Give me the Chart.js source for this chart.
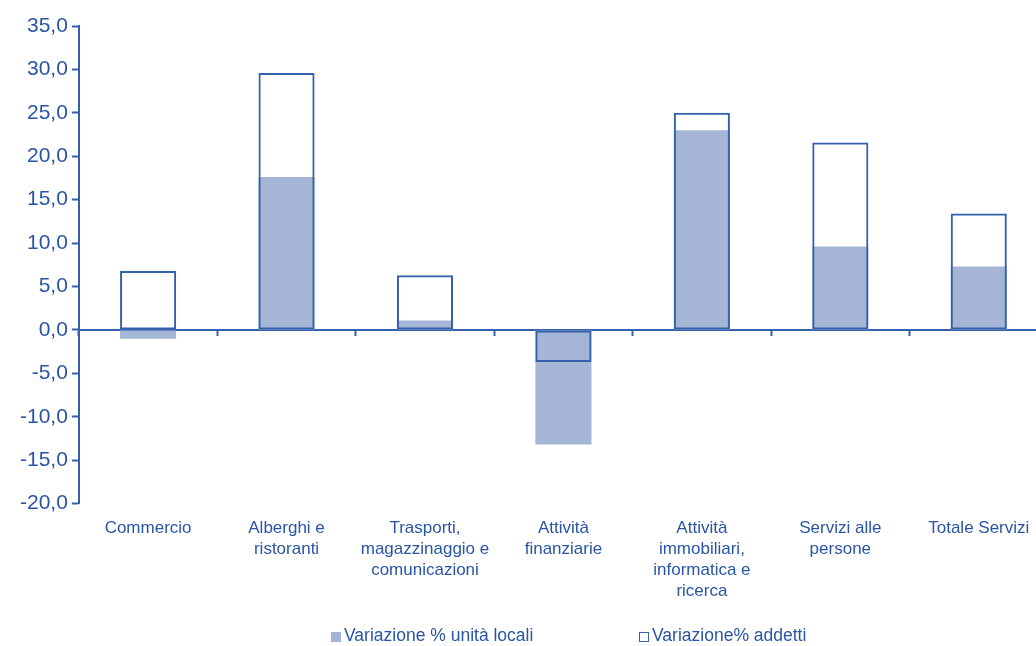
<!DOCTYPE html>
<html>
<head>
<meta charset="utf-8">
<script src="https://cdn.jsdelivr.net/npm/chart.js@4/dist/chart.umd.min.js"></script>
<style>
  html, body { margin: 0; padding: 0; background: #fff; overflow: hidden; }
  #wrap { position: relative; width: 1036px; height: 646px; overflow: hidden; }
  #chart { position: absolute; left: 0; top: 0; }
  .leg { position: absolute; top: 625px; font: 17.5px "Liberation Sans", Arial, sans-serif; color: #2a55a5; white-space: nowrap; }
  .leg i { display: inline-block; width: 10px; height: 10px; margin-right: 3px; vertical-align: -1px; box-sizing: border-box; }
</style>
</head>
<body>
<div id="wrap">
  <canvas id="chart" width="1048" height="646"></canvas>
</div>
<script>
// ---------------------------------------------------------------------------
// Dati
// ---------------------------------------------------------------------------
const categorie = [
    ["Commercio"],
    ["Alberghi e", "ristoranti"],
    ["Trasporti,", "magazzinaggio e", "comunicazioni"],
    ["Attività", "finanziarie"],
    ["Attività", "immobiliari,", "informatica e", "ricerca"],
    ["Servizi alle", "persone"],
    ["Totale Servizi"]
];

const unitaLocali = [-1.0, 17.6, 1.1, -13.2, 23.0, 9.6, 7.3];
const addetti     = [6.8, 29.6, 6.3, -3.7, 25.0, 21.6, 13.4];

const etichettaUnita   = "Variazione % unità locali";
const etichettaAddetti = "Variazione% addetti";

// ---------------------------------------------------------------------------
// Colori
// ---------------------------------------------------------------------------
const BLU_TESTO = "#2a55a5";
const BLU_ASSE  = "#3560ab";
const RIEMPIMENTO = "#a5b5d5";
const FONT = "'Liberation Sans', Arial, sans-serif";

const fmt = v => v.toFixed(1).replace(".", ",");

// ---------------------------------------------------------------------------
// Grafico
// ---------------------------------------------------------------------------
const chart = new Chart(document.getElementById("chart"), {
    type: "bar",
    data: {
        labels: categorie,
        datasets: [
            {
                label: etichettaUnita,
                data: unitaLocali,
                backgroundColor: RIEMPIMENTO,
                borderWidth: 0,
                grouped: false,
                order: 2
            },
            {
                label: etichettaAddetti,
                data: addetti,
                backgroundColor: "rgba(0,0,0,0)",
                borderColor: BLU_ASSE,
                borderWidth: 2,
                borderSkipped: false,
                grouped: false,
                order: 1
            }
        ]
    },
    options: {
        responsive: false,
        animation: false,
        barPercentage: 1,
        categoryPercentage: 0.405,
        layout: { padding: { top: 26, left: 16, right: 0, bottom: 30 } },
        plugins: {
            legend: { display: false },
            tooltip: { enabled: false }
        },
        scales: {
            y: {
                min: -20,
                max: 35,
                border: { color: BLU_ASSE, width: 2 },
                grid: { drawOnChartArea: false, tickLength: 7, tickColor: BLU_ASSE, tickWidth: 2 },
                ticks: {
                    stepSize: 5,
                    padding: 4,
                    color: BLU_TESTO,
                    font: { family: FONT, size: 21 },
                    callback: v => fmt(v)
                }
            },
            x: {
                position: { y: 0 },
                border: { color: BLU_ASSE, width: 2 },
                grid: { drawOnChartArea: false, tickLength: 5, tickColor: BLU_ASSE, tickWidth: 2, offset: true },
                ticks: { display: false }
            },
            x2: {
                type: "category",
                position: "bottom",
                labels: categorie,
                border: { display: false },
                grid: { display: false, drawTicks: false },
                ticks: {
                    padding: 14,
                    color: BLU_TESTO,
                    maxRotation: 0,
                    autoSkip: false,
                    font: { family: FONT, size: 17, lineHeight: 1.24 }
                }
            }
        }
    }
});

// ---------------------------------------------------------------------------
// Legenda (HTML)
// ---------------------------------------------------------------------------
const wrap = document.getElementById("wrap");
const posLegenda = [331, 639];
chart.data.datasets.forEach((ds, i) => {
    const el = document.createElement("div");
    el.className = "leg";
    el.style.left = posLegenda[i] + "px";
    const box = document.createElement("i");
    if (ds.borderWidth) {
        box.style.border = "1.5px solid " + ds.borderColor;
    } else {
        box.style.background = ds.backgroundColor;
    }
    el.appendChild(box);
    el.appendChild(document.createTextNode(ds.label));
    wrap.appendChild(el);
});
</script>
</body>
</html>
